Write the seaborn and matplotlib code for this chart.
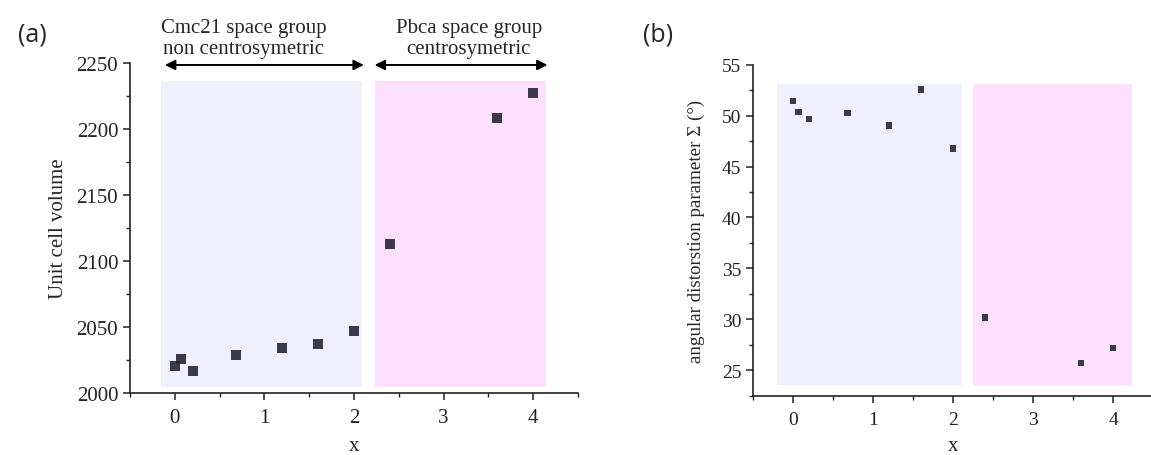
import numpy as np
import matplotlib.pyplot as plt
import seaborn as sns

# composition x
x_vals = [0, 0.07, 0.2, 0.68, 1.2, 1.6, 2.0, 2.4, 3.6, 4.0]
# unit cell volume
volume = [2020.7, 2025.8, 2016.9, 2029.0, 2034.0, 2036.9, 2046.7, 2112.9, 2208.0, 2227.0]
# angular distortion parameter
sigma = [51.45, 50.35, 49.67, 50.25, 49.05, 52.55, 46.75, 30.2, 25.7, 27.2]

x_ticks = [0, 1, 2, 3, 4]
vol_ticks = [2000, 2050, 2100, 2150, 2200, 2250]
sig_ticks = [25, 30, 35, 40, 45, 50, 55]

sns.set_style('ticks')
plt.rcParams['font.family'] = ['Liberation Serif', 'DejaVu Serif']

blue_bg = '#f0effd'
pink_bg = '#ffe0fc'
mark_col = '#262636'

fig = plt.figure(figsize=(11.51, 4.56), dpi=100)
ax1 = fig.add_axes([130 / 1151, 1 - 394 / 456, 448 / 1151, 330 / 456])
ax2 = fig.add_axes([753 / 1151, 1 - 396.7 / 456, 400 / 1151, 331 / 456])


def style_axis(ax, fs):
    for s in ['top', 'right']:
        ax.spines[s].set_visible(False)
    for s in ['left', 'bottom']:
        ax.spines[s].set_linewidth(1.2)
        ax.spines[s].set_color('#222222')
    ax.tick_params(which='major', direction='out', length=5, width=1.1,
                   labelsize=fs, colors='#222222')
    ax.tick_params(which='minor', direction='out', length=3, width=1.0,
                   colors='#222222')
    ax.tick_params(axis='x', which='major', pad=6)
    ax.set_xlim(-0.5, 4.5)
    ax.set_xticks(x_ticks)
    ax.set_xticks([-0.5, 0.5, 1.5, 2.5, 3.5, 4.5], minor=True)
    ax.set_xlabel('x', fontsize=15, labelpad=6)


# (a) unit cell volume
ax1.set_ylim(2000, 2250)
ax1.axvspan(-0.15, 2.09, ymin=0.019, ymax=0.946, color=blue_bg, lw=0, zorder=0)
ax1.axvspan(2.23, 4.14, ymin=0.019, ymax=0.946, color=pink_bg, lw=0, zorder=0)
sns.scatterplot(x=x_vals, y=volume, ax=ax1, marker='s', s=52, color=mark_col,
                alpha=0.9, edgecolor='none', zorder=3)
style_axis(ax1, 15)
ax1.set_yticks(vol_ticks)
ax1.set_yticks(np.arange(2025, 2250, 50), minor=True)
ax1.set_ylabel('Unit cell volume', fontsize=15, labelpad=6)

arrow_kw = dict(arrowstyle='<|-|>', color='black', lw=1.4, mutation_scale=15,
                shrinkA=0, shrinkB=0)
ax1.annotate('', xy=(2.11, 2248.5), xytext=(-0.11, 2248.5),
             arrowprops=arrow_kw, annotation_clip=False)
ax1.annotate('', xy=(4.16, 2248.5), xytext=(2.23, 2248.5),
             arrowprops=arrow_kw, annotation_clip=False)
ax1.text(0.77, 2254, 'Cmc21 space group\nnon centrosymetric', ha='center',
         va='bottom', fontsize=15, linespacing=1.1, clip_on=False)
ax1.text(3.28, 2254, 'Pbca space group\ncentrosymetric', ha='center',
         va='bottom', fontsize=15, linespacing=1.1, clip_on=False)

# (b) angular distortion
ax2.set_ylim(22.55, 55)
ax2.axvspan(-0.2, 2.11, ymin=0.032, ymax=0.943, color=blue_bg, lw=0, zorder=0)
ax2.axvspan(2.25, 4.24, ymin=0.032, ymax=0.943, color=pink_bg, lw=0, zorder=0)
sns.scatterplot(x=x_vals, y=sigma, ax=ax2, marker='s', s=22, color=mark_col,
                alpha=0.9, edgecolor='none', zorder=3)
style_axis(ax2, 14)
ax2.set_yticks(sig_ticks)
ax2.set_yticks(np.arange(22.5, 55, 2.5), minor=True)
ax2.set_ylabel('angular distorstion parameter \u03a3 (\u00b0)', fontsize=13.7,
               labelpad=12)

fig.text(32 / 1151, 1 - 35 / 456, '(a)', fontsize=18, family='Open Sans',
         ha='center', va='center')
fig.text(658 / 1151, 1 - 35 / 456, '(b)', fontsize=18, family='Open Sans',
         ha='center', va='center')

fig.savefig('out.png', dpi=100)
